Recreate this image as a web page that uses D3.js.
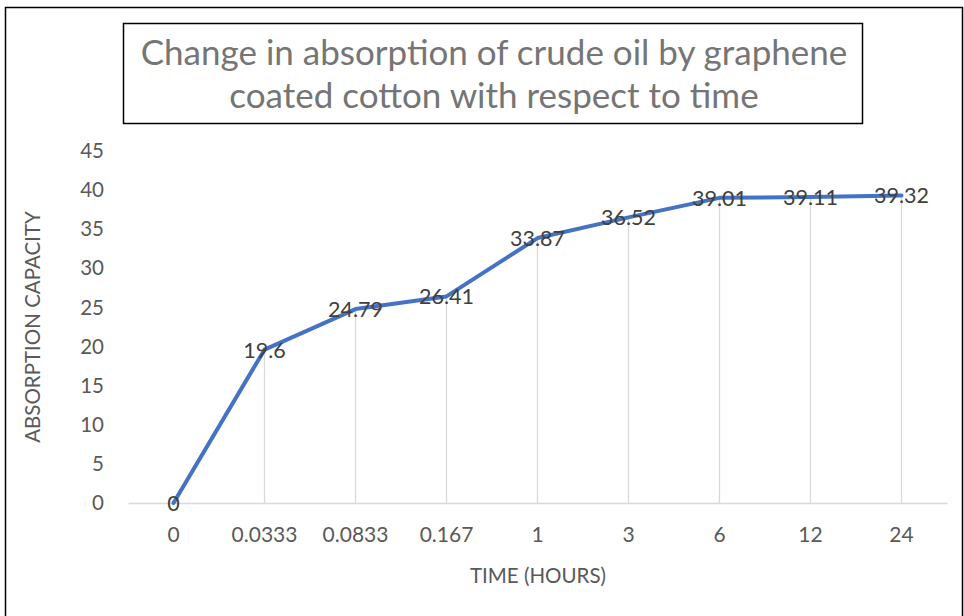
<!DOCTYPE html>
<html><head><meta charset="utf-8">
<script src="https://cdn.jsdelivr.net/npm/d3@7"></script>
<style>body{margin:0;background:#fff}svg{display:block}</style>
</head><body>
<svg id="c" width="964" height="616"></svg>
<script>
const categories = ["0","0.0333","0.0833","0.167","1","3","6","12","24"];
const values = [0,19.6,24.79,26.41,33.87,36.52,39.01,39.11,39.32];
const yTicks = [0,5,10,15,20,25,30,35,40,45];
const titleLines = ["Change in absorption of crude oil by graphene","coated cotton with respect to time"];

const svg = d3.select("#c");
const font = "Lato, 'Open Sans', sans-serif";
svg.append("rect").attr("x",5.5).attr("y",7.5).attr("width",957).attr("height",620)
  .attr("fill","#fff").attr("stroke","#000").attr("stroke-width",1.5);

const x = d3.scaleBand().domain(categories).range([128,947]);
const y = d3.scaleLinear().domain([0,45]).range([503,151]);

// title box
svg.append("rect").attr("x",123.5).attr("y",23.5).attr("width",739).attr("height",100)
  .attr("fill","#fff").attr("stroke","#000").attr("stroke-width",1.5);
svg.selectAll(".t").data(titleLines).join("text")
  .attr("x",494).attr("y",(d,i)=>65+i*43).attr("text-anchor","middle")
  .attr("font-family",font).attr("font-size",35).attr("fill","#757575").text(d=>d);

// drop lines
svg.selectAll(".drop").data(values).join("line")
  .attr("x1",(d,i)=>x(categories[i])+x.bandwidth()/2).attr("x2",(d,i)=>x(categories[i])+x.bandwidth()/2)
  .attr("y1",d=>y(d)).attr("y2",y(0)).attr("stroke","#d9d9d9").attr("stroke-width",1.3);

// x axis
const xa = svg.append("g").attr("transform",`translate(0,${y(0)})`).call(d3.axisBottom(x).tickSize(0).tickPadding(24));
xa.select(".domain").attr("stroke","#d9d9d9").attr("stroke-width",1.5);
xa.selectAll("text").attr("font-family",font).attr("font-size",21).attr("fill","#595959");

// y axis
const ya = svg.append("g").attr("transform",`translate(109,0)`).call(d3.axisLeft(y).tickValues(yTicks).tickSize(0).tickPadding(5));
ya.select(".domain").remove();
ya.selectAll("text").attr("font-family",font).attr("font-size",20.5).attr("fill","#595959");

// line
svg.append("path").datum(values)
  .attr("d",d3.line().x((d,i)=>x(categories[i])+x.bandwidth()/2).y(d=>y(d)))
  .attr("fill","none").attr("stroke","#4472C4").attr("stroke-width",4).attr("stroke-linejoin","round").attr("stroke-linecap","round");

// labels
svg.selectAll(".lab").data(values).join("text")
  .attr("x",(d,i)=>x(categories[i])+x.bandwidth()/2).attr("y",d=>y(d)+8)
  .attr("text-anchor","middle").attr("font-family",font).attr("font-size",21.5).attr("fill","#404040")
  .text(d=>String(d));

// axis titles
svg.append("text").attr("x",538).attr("y",583).attr("text-anchor","middle")
  .attr("font-family",font).attr("font-size",20.5).attr("fill","#595959").text("TIME (HOURS)");
svg.append("text").attr("transform","translate(40,327) rotate(-90)").attr("text-anchor","middle")
  .attr("font-family",font).attr("font-size",20.5).attr("fill","#595959").text("ABSORPTION CAPACITY");
</script>
</body></html>
